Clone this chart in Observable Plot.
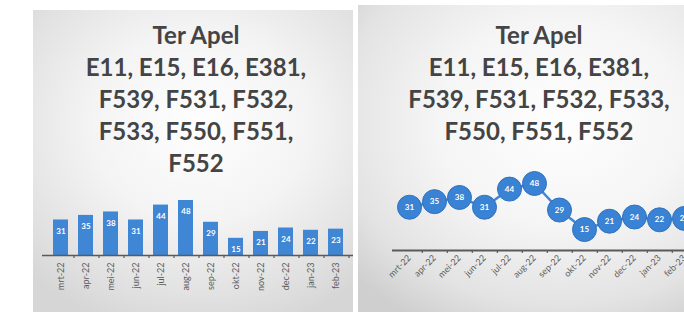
<!DOCTYPE html>
<html>
<head>
<meta charset="utf-8">
<script src="https://cdn.jsdelivr.net/npm/d3@7"></script>
<script src="https://cdn.jsdelivr.net/npm/@observablehq/plot@0.6"></script>
<style>
  html, body { margin: 0; padding: 0; background: #fff; }
  #wrap { position: relative; width: 684px; height: 312px; overflow: hidden; background: #fff; font-family: Lato, "Open Sans", sans-serif; }
  .panel { position: absolute; overflow: hidden; }
  #left { left: 33px; top: 10px; width: 320px; height: 302px;
    background: radial-gradient(ellipse 75% 70% at 52% 38%, #fefefe 0%, #f4f4f4 45%, #e2e2e2 80%, #d6d6d6 100%); }
  #right { left: 358px; top: 5px; width: 326px; height: 307px;
    background: radial-gradient(ellipse 85% 75% at 62% 38%, #fefefe 0%, #f5f5f5 45%, #e3e3e3 80%, #cfcfcf 100%); }
  .title { position: absolute; width: 400px; text-align: center; font-weight: 700; font-size: 24px; line-height: 32px; color: #444; font-family: Lato, sans-serif; }
  .panel svg { position: absolute; left: 0; top: 0; background: transparent; overflow: visible; max-width: none !important; }
</style>
</head>
<body>
<div id="wrap">
  <div class="panel" id="left"></div>
  <div class="panel" id="right"></div>
</div>
<script>
const months = ["mrt-22", "apr-22", "mei-22", "jun-22", "jul-22", "aug-22", "sep-22", "okt-22", "nov-22", "dec-22", "jan-23", "feb-23"];
const values = [31, 35, 38, 31, 44, 48, 29, 15, 21, 24, 22, 23];
const leftTitle = ["Ter Apel", "E11, E15, E16, E381,", "F539, F531, F532,", "F533, F550, F551,", "F552"];
const rightTitle = ["Ter Apel", "E11, E15, E16, E381,", "F539, F531, F532, F533,", "F550, F551, F552"];

const data = months.map((m, i) => ({month: m, value: values[i]}));
const blue = "#3f86d5";
const axisColor = "#5a5a5a";

function addTitle(panel, lines, centerX, top) {
  const t = document.createElement("div");
  t.className = "title";
  t.style.left = (centerX - 200) + "px";
  t.style.top = top + "px";
  lines.forEach((l, i) => {
    if (i) t.appendChild(document.createElement("br"));
    t.appendChild(document.createTextNode(l));
  });
  panel.appendChild(t);
}

// Left: bar chart
const left = document.getElementById("left");
addTitle(left, leftTitle, 196 - 33, 19 - 10);
const barChart = Plot.plot({
  width: 320,
  height: 302,
  marginLeft: 9,
  marginRight: 0,
  marginTop: 190,
  marginBottom: 57,
  style: {background: "transparent", fontFamily: "Lato, sans-serif", maxWidth: "none"},
  x: {type: "band", domain: months, padding: 0.42, label: null},
  y: {domain: [0, 48], axis: null},
  marks: [
    Plot.barY(data, {x: "month", y: "value", fill: blue}),
    Plot.text(data, {x: "month", y: "value", text: d => String(d.value), dy: 11, fill: "white", fontSize: 8, fontWeight: "bold"}),
    Plot.ruleY([0], {stroke: axisColor, strokeWidth: 1.5}),
    Plot.ruleX(months, {x: d => d, dx: 13, y1: 0, y2: -2.6, stroke: axisColor, strokeWidth: 1.2}),
    Plot.axisX({tickRotate: -90, tickSize: 0, tickPadding: 7, fontSize: 9, fill: "#5c5c5c", label: null})
  ]
});
left.appendChild(barChart);

// Right: line chart
const right = document.getElementById("right");
addTitle(right, rightTitle, 539 - 358, 19 - 5);
const lineChart = Plot.plot({
  width: 352,
  height: 307,
  marginLeft: 34,
  marginRight: 10,
  marginTop: 178,
  marginBottom: 62,
  style: {background: "transparent", fontFamily: "Lato, sans-serif", maxWidth: "none"},
  x: {type: "point", domain: months, padding: 0.5, label: null},
  y: {domain: [0, 48], axis: null},
  marks: [
    Plot.ruleY([0], {stroke: axisColor, strokeWidth: 2}),
    Plot.ruleX(months, {x: d => d, dx: 12.8, y1: 0, y2: -2.2, stroke: axisColor, strokeWidth: 1.2}),
    Plot.axisX({tickRotate: -45, tickSize: 0, tickPadding: 6, fontSize: 9, fill: "#5c5c5c", label: null}),
    Plot.line(data, {x: "month", y: "value", stroke: blue, strokeWidth: 2.5}),
    Plot.dot(data, {x: "month", y: "value", r: 12, fill: "#3a82d3", stroke: "#2f72c0", strokeWidth: 1}),
    Plot.text(data, {x: "month", y: "value", text: d => String(d.value), fill: "white", fontSize: 8, fontWeight: "bold"})
  ]
});
right.appendChild(lineChart);
</script>
</body>
</html>
